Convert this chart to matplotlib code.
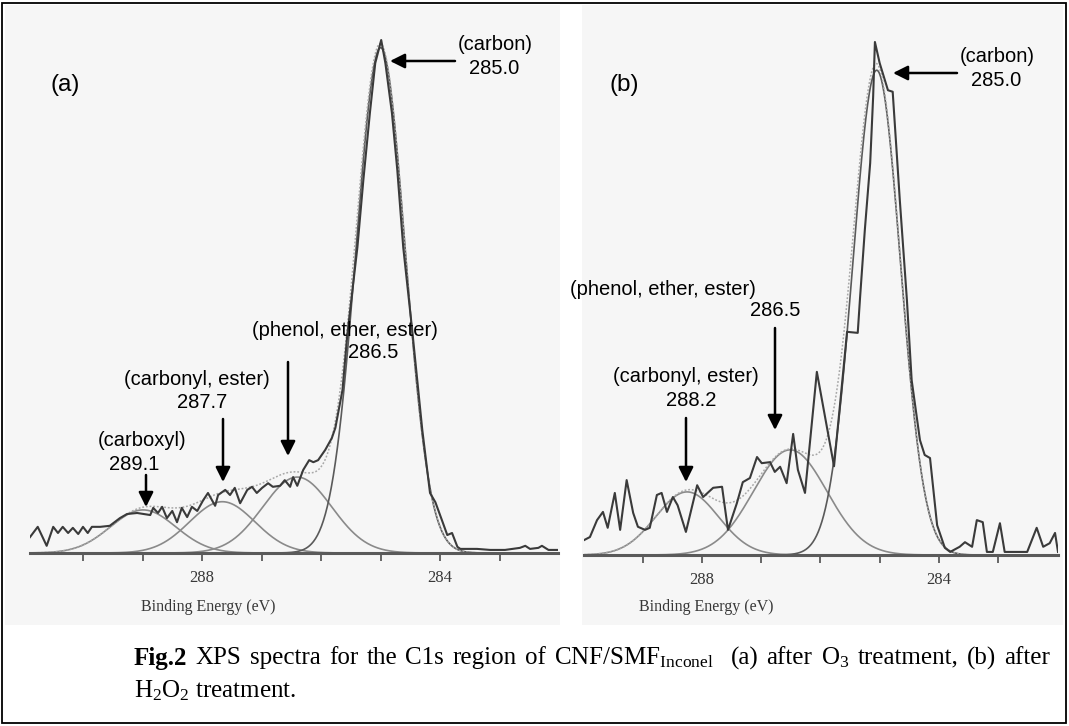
import numpy as np
import matplotlib.pyplot as plt
from matplotlib.patches import Rectangle, FancyArrowPatch

plt.rcParams['mathtext.fontset'] = 'custom'
plt.rcParams['mathtext.rm'] = 'Liberation Serif'
plt.rcParams['mathtext.it'] = 'Liberation Serif:italic'
plt.rcParams['mathtext.bf'] = 'Liberation Serif:bold'

# ---- panel (a): after O3 treatment, raw C1s spectrum (binding energy eV, rel. counts)
energy_a = [290.89, 290.76, 290.61, 290.50, 290.42, 290.34, 290.25, 290.17, 290.08, 290.00,
            289.92, 289.85, 289.71, 289.55, 289.38, 289.26, 289.09, 288.87, 288.82, 288.74,
            288.67, 288.59, 288.50, 288.42, 288.34, 288.25, 288.17, 288.08, 287.98, 287.90,
            287.78, 287.73, 287.61, 287.53, 287.45, 287.36, 287.24, 287.16, 287.08, 286.99,
            286.89, 286.81, 286.69, 286.61, 286.52, 286.47, 286.40, 286.30, 286.20, 286.13,
            286.05, 285.93, 285.82, 285.76, 285.71, 285.64, 285.56, 285.39, 285.29, 285.18,
            285.09, 284.99, 284.92, 284.81, 284.72, 284.62, 284.47, 284.30, 284.17, 284.08,
            283.97, 283.88, 283.80, 283.71, 283.66, 283.38, 283.16, 282.91, 282.66, 282.57,
            282.49, 282.35, 282.29, 282.18, 282.02]
counts_a = [3.1, 5.1, 1.4, 5.1, 3.9, 5.1, 3.9, 4.9, 3.7, 5.1,
            3.9, 5.1, 5.1, 5.3, 6.8, 7.6, 7.8, 7.4, 8.8, 7.8,
            9.0, 6.8, 8.2, 6.0, 8.8, 7.0, 9.0, 8.2, 10.3, 11.7,
            9.2, 11.3, 12.3, 11.3, 12.7, 9.7, 12.3, 12.9, 11.7, 12.7,
            13.6, 12.9, 13.1, 14.2, 12.9, 14.8, 13.1, 16.2, 18.1, 17.7,
            18.1, 20.1, 22.4, 24.4, 27.5, 31.8, 42.5, 59.6, 72.7, 85.8,
            95.5, 100.0, 95.5, 85.8, 74.7, 59.6, 43.5, 24.0, 11.7, 9.9,
            6.4, 3.5, 3.9, 1.2, 0.8, 0.8, 0.6, 0.6, 1.0, 1.4,
            0.8, 1.0, 1.4, 0.6, 0.6]
# fitted components: carboxyl, carbonyl/ester, phenol/ether/ester, carbon
center_a = [288.99, 287.66, 286.40, 285.00]
height_a = [8.4, 10.0, 14.8, 98.5]
sigma_a = [0.55, 0.55, 0.58, 0.41]

# ---- panel (b): after H2O2 treatment
energy_b = [289.99, 289.89, 289.77, 289.67, 289.59, 289.47, 289.38, 289.27, 289.16, 289.08,
            288.96, 288.88, 288.76, 288.68, 288.59, 288.49, 288.41, 288.27, 288.08, 287.98,
            287.81, 287.66, 287.56, 287.41, 287.31, 287.19, 287.07, 286.99, 286.85, 286.77,
            286.68, 286.57, 286.46, 286.38, 286.26, 286.06, 285.77, 285.55, 285.37, 285.33,
            285.25, 285.16, 285.11, 285.08, 285.00, 284.86, 284.78, 284.66, 284.54, 284.46,
            284.32, 284.24, 284.15, 284.03, 283.90, 283.81, 283.65, 283.56, 283.44, 283.36,
            283.26, 283.19, 283.09, 282.97, 282.89, 282.51, 282.35, 282.24, 282.13, 282.04,
            281.99]
counts_b = [2.9, 3.5, 6.8, 8.4, 5.3, 12.1, 4.9, 14.6, 8.2, 5.5,
            4.9, 5.3, 11.7, 12.1, 8.4, 11.3, 9.7, 4.5, 13.6, 11.3,
            13.1, 13.3, 4.9, 10.1, 14.2, 15.0, 19.1, 17.9, 18.1, 16.2,
            17.2, 14.0, 23.6, 16.6, 12.1, 35.7, 17.3, 43.5, 43.3, 50.3,
            63.4, 76.4, 89.3, 100.0, 95.9, 90.6, 90.3, 69.2, 49.7, 34.1,
            22.4, 19.5, 18.9, 5.8, 1.4, 0.6, 1.6, 2.5, 1.6, 6.8,
            6.4, 0.6, 0.6, 6.2, 0.6, 0.6, 5.3, 1.6, 2.3, 4.3,
            0.6]
# fitted components: carbonyl/ester, phenol/ether/ester, carbon
center_b = [288.25, 286.51, 285.05]
height_b = [12.3, 20.5, 94.5]
sigma_b = [0.53, 0.62, 0.40]

minor_ticks_a = [290, 289, 288, 287, 286, 285, 284, 283]
minor_ticks_b = [289, 288, 287, 286, 285, 284, 283]
major_ticks = [288, 284]

caption_words = ['XPS', 'spectra', 'for', 'the', 'C1s', 'region', 'of',
                 r'CNF/SMF$_{\mathrm{Inconel}}$', '(a)', 'after', r'O$_3$', 'treatment,',
                 '(b)', 'after']
caption_line2 = r'H$_2$O$_2$ treatment.'

W, H = 1069, 726
fig = plt.figure(figsize=(W / 100, H / 100), dpi=100)
fig.patch.set_facecolor('white')


def box(x, y, w, h):
    # pixel box (top-left origin) -> figure fraction rect
    return [x / W, 1 - (y + h) / H, w / W, h / H]


def pt(x, y):
    return (x / W, 1 - y / H)


# scanned paper background of the two spectra
for bx in [box(5, 5, 555, 620), box(582, 5, 481, 620)]:
    fig.add_artist(Rectangle((bx[0], bx[1]), bx[2], bx[3], transform=fig.transFigure,
                             facecolor='#f6f6f6', edgecolor='none', zorder=0))


def draw_panel(ax, energy, counts, centers, heights, sigmas, xlim, ymax, minor):
    grid = np.linspace(xlim[0], xlim[1], 800)
    comps = []
    for c, h, s in zip(centers, heights, sigmas):
        comps.append(h * np.exp(-(grid - c) ** 2 / (2 * s ** 2)))
    for i, comp in enumerate(comps):
        col = '#5a5a5a' if i == len(comps) - 1 else '#8a8a8a'
        ax.plot(grid, comp, color=col, lw=1.2)
    ax.plot(grid, np.sum(comps, axis=0), color='#a8a8a8', lw=1.1, ls=(0, (1.2, 1.2)))
    ax.plot(energy, counts, color='#3a3a3a', lw=1.5)
    ax.set_xlim(*xlim)
    ax.set_ylim(0, ymax)
    ax.patch.set_alpha(0)
    for s in ['top', 'left', 'right']:
        ax.spines[s].set_visible(False)
    ax.spines['bottom'].set_color('#5a5a5a')
    ax.spines['bottom'].set_linewidth(2.2)
    ax.set_yticks([])
    ax.set_xticks(major_ticks)
    ax.set_xticklabels([str(t) for t in major_ticks], fontfamily='Liberation Serif',
                       fontsize=12, color='#383838')
    ax.set_xticks(minor, minor=True)
    ax.tick_params(axis='x', which='both', direction='out', length=6, width=1.3,
                   color='#5a5a5a', pad=6)


ax_a = fig.add_axes(box(30, 20, 528, 533))
draw_panel(ax_a, energy_a, counts_a, center_a, height_a, sigma_a,
           (290.89, 282.02), 533 / 5.13, minor_ticks_a)
ax_b = fig.add_axes(box(584, 20, 474, 535))
draw_panel(ax_b, energy_b, counts_b, center_b, height_b, sigma_b,
           (289.99, 281.99), 535 / 5.13, minor_ticks_b)

for cx in [208, 706]:
    fig.text(*pt(cx, 607), 'Binding Energy (eV)', family='Liberation Serif', fontsize=11.5,
             color='#383838', ha='center', va='center')

sans = dict(family='Liberation Sans', fontsize=14.5, color='black', ha='center', va='center')
labels = [
    ('(a)', 65, 85, 17.5), ('(b)', 624, 85, 17.5),
    ('(carbon)', 495, 45, None), ('285.0', 494, 68, None),
    ('(phenol, ether, ester)', 345, 330, None), ('286.5', 373, 352, None),
    ('(carbonyl, ester)', 197, 380, None), ('287.7', 202, 403, None),
    ('(carboxyl)', 142, 441, None), ('289.1', 134, 464, None),
    ('(carbon)', 997, 57, None), ('285.0', 996, 80, None),
    ('(phenol, ether, ester)', 663, 290, None), ('286.5', 775, 311, None),
    ('(carbonyl, ester)', 686, 377, None), ('288.2', 691, 400, None),
]
for txt, x, y, fs in labels:
    kw = dict(sans)
    if fs:
        kw['fontsize'] = fs
    fig.text(*pt(x, y), txt, **kw)

arrows = [((455, 61), (390, 61)), ((288, 362), (288, 456)), ((223, 419), (223, 482)),
          ((146, 475), (146, 507)), ((957, 73), (893, 73)), ((775, 328), (775, 430)),
          ((686, 418), (686, 482))]
for tail, tip in arrows:
    fig.add_artist(FancyArrowPatch(pt(*tail), pt(*tip), transform=fig.transFigure,
                                   arrowstyle='-|>', mutation_scale=22, lw=1.8,
                                   color='black', shrinkA=0, shrinkB=0))

# caption, first line justified between x=134 and x=1050 like the document text
cap = dict(family='Liberation Serif', fontsize=18, color='black', ha='left', va='center')
renderer = fig.canvas.get_renderer()
y1 = 1 - 658 / H
pieces = [fig.text(134 / W, y1, 'Fig.2', weight='bold', **cap)]
pieces += [fig.text(0, y1, w, **cap) for w in caption_words]
widths = [p.get_window_extent(renderer).width for p in pieces]
gap_weight = [1] * (len(pieces) - 1)
gap_weight[caption_words.index('(a)')] = 2
gap = (1050 - 134 - sum(widths)) / sum(gap_weight)
x = 134 + widths[0]
for p, w, g in zip(pieces[1:], widths[1:], gap_weight):
    x += gap * g
    p.set_x(x / W)
    x += w
fig.text(*pt(134, 691), caption_line2, **cap)

# outer frame
fig.add_artist(Rectangle((2 / W, 3 / H), 1064 / W, 720 / H, transform=fig.transFigure,
                         facecolor='none', edgecolor='black', lw=1.3))

fig.savefig('out.png', dpi=100)
